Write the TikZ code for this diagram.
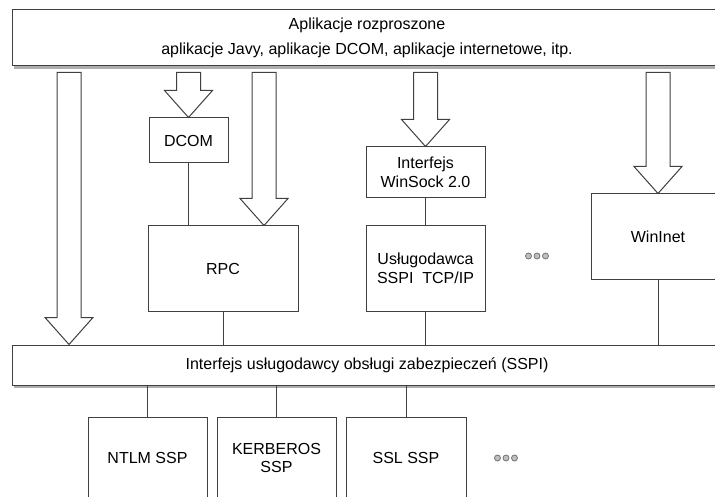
\documentclass[tikz,border=0pt]{standalone}
\usepackage{fontspec}
\setmainfont{Liberation Sans}
\usetikzlibrary{calc,shadows}
\begin{document}
\begin{tikzpicture}[x=1pt,y=-1pt,
  box/.style={draw=black!75, line width=1pt, fill=white, inner sep=0pt,
    font=\fontsize{16}{18.5}\selectfont, align=center},
  link/.style={draw=black!75, line width=1pt},
  barrowstyle/.style={draw=black!75, line width=1pt, fill=white},
  shad/.style={drop shadow={shadow xshift=2pt, shadow yshift=-3pt, opacity=0.45, fill=black!70}},
  dotstyle/.style={draw=black!55, fill=black!25, line width=0.8pt}]
\useasboundingbox (0,0) rectangle (715,497);
\clip (0,0) rectangle (715,497);

% boxes
\node[box, shad, minimum width=710pt, minimum height=56pt] (top) at (367,38)
  {Aplikacje rozproszone\\[6pt]aplikacje Javy, aplikacje DCOM, aplikacje internetowe, itp.};
\node[box, minimum width=79pt, minimum height=45pt] (dcom) at (188.5,140.5) {DCOM};
\node[box, minimum width=150pt, minimum height=85pt] (rpc) at (223,268.5) {RPC};
\node[box, minimum width=119pt, minimum height=51pt] (winsock) at (425.5,172.5) {Interfejs\\WinSock 2.0};
\node[box, minimum width=119pt, minimum height=85pt] (uslug) at (425.5,268.5) {Usługodawca\\SSPI\ \ TCP/IP};
\node[box, minimum width=134pt, minimum height=85pt] (wininet) at (658,236.5) {WinInet};
\node[box, shad, minimum width=710pt, minimum height=40pt] (sspi) at (367,365)
  {Interfejs usługodawcy obsługi zabezpieczeń (SSPI)};
\node[box, minimum width=119pt, minimum height=82pt] (ntlm) at (147.5,458) {NTLM SSP};
\node[box, minimum width=119pt, minimum height=82pt] (kerb) at (276.5,458) {KERBEROS\\SSP};
\node[box, minimum width=120pt, minimum height=82pt] (ssl) at (406,458) {SSL SSP};

% connectors
\draw[link] (dcom.south) -- (rpc.north -| dcom.south);
\draw[link] (rpc.south) -- (sspi.north -| rpc.south);
\draw[link] (winsock.south) -- (uslug.north);
\draw[link] (uslug.south) -- (sspi.north -| uslug.south);
\draw[link] (wininet.south) -- (sspi.north -| wininet.south);
\draw[link] (sspi.south -| ntlm.north) -- (ntlm.north);
\draw[link] (sspi.south -| kerb.north) -- (kerb.north);
\draw[link] (sspi.south -| ssl.north) -- (ssl.north);

% block arrows
\coordinate (xa) at (69,0);
\coordinate (xb) at (264,0);
\coordinate (t1) at (sspi.north -| xa);
\coordinate (t3) at (rpc.north -| xb);
\newcommand\blockarr[1]{%
  \path[barrowstyle] let \p1=(#1), \p2=(top.south) in
    (\x1-12pt,\y2-6pt) -- (\x1-12pt,\y1+27pt) -- (\x1-24pt,\y1+27pt) -- (\x1,\y1)
    -- (\x1+24pt,\y1+27pt) -- (\x1+12pt,\y1+27pt) -- (\x1+12pt,\y2-6pt) -- cycle;}
\blockarr{t1}
\blockarr{dcom.north}
\blockarr{t3}
\blockarr{winsock.north}
\blockarr{wininet.north}

% ellipsis dots
\foreach \dx in {-8.5,0,8.5} {
  \path[dotstyle] (537+\dx,256) circle (3pt);
  \path[dotstyle] (506+\dx,458) circle (3pt);
}
\end{tikzpicture}
\end{document}
